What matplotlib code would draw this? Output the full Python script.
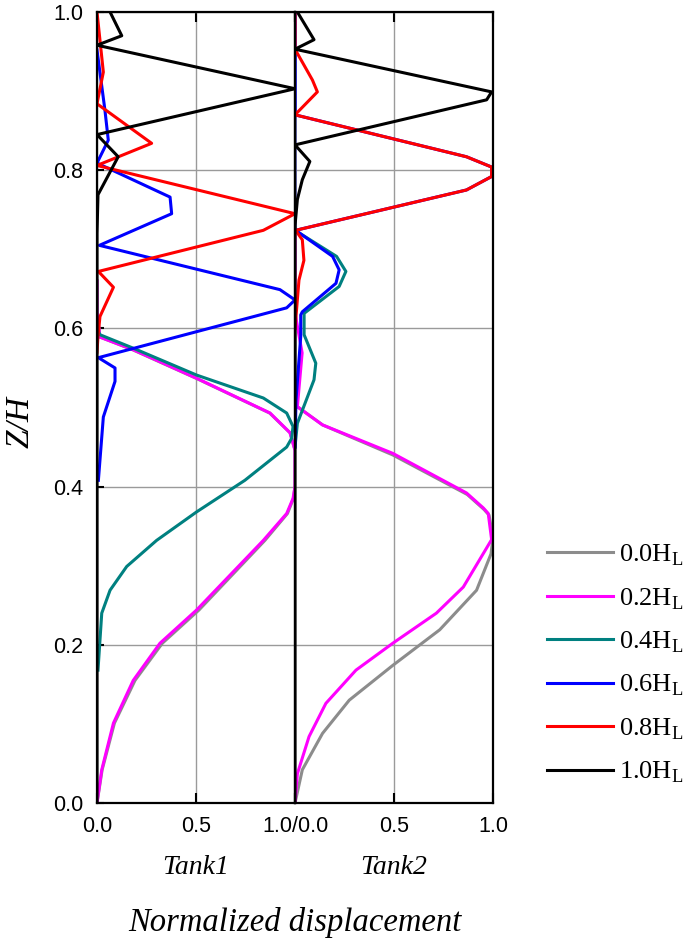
import matplotlib
matplotlib.use("Agg")
import matplotlib.pyplot as plt

plt.rcParams['mathtext.fontset'] = 'custom'
plt.rcParams['mathtext.rm'] = 'Liberation Serif'

labels = ["0.0H$_\\mathrm{L}$", "0.2H$_\\mathrm{L}$", "0.4H$_\\mathrm{L}$",
          "0.6H$_\\mathrm{L}$", "0.8H$_\\mathrm{L}$", "1.0H$_\\mathrm{L}$"]
colors = ["#8c8c8c", "#ff00ff", "#008080", "#0000ff", "#ff0000", "#000000"]

# ---- Tank1 (x = normalized displacement, z = Z/H) ----
t1_gray_x = [0.0, 0.0, 0.015, 0.18, 0.50, 0.872, 0.975, 1.0, 1.0, 0.992, 0.962, 0.848, 0.515, 0.33, 0.192, 0.088, 0.026, 0.0]
t1_gray_z = [0.66, 0.62, 0.589, 0.573, 0.537, 0.493, 0.468, 0.446, 0.40, 0.385, 0.366, 0.332, 0.244, 0.202, 0.155, 0.101, 0.042, 0.0]
t1_mag_x = [0.0, 0.0, 0.015, 0.183, 0.503, 0.874, 0.975, 1.0, 1.0, 0.99, 0.958, 0.84, 0.503, 0.318, 0.183, 0.083, 0.024, 0.0]
t1_mag_z = [0.66, 0.62, 0.589, 0.573, 0.537, 0.493, 0.468, 0.446, 0.40, 0.385, 0.366, 0.332, 0.244, 0.202, 0.155, 0.101, 0.042, 0.0]
t1_teal_x = [0.0, 0.015, 0.183, 0.503, 0.84, 0.958, 0.99, 0.983, 0.958, 0.747, 0.503, 0.301, 0.15, 0.066, 0.024, 0.005]
t1_teal_z = [0.60, 0.592, 0.575, 0.541, 0.512, 0.493, 0.476, 0.461, 0.450, 0.408, 0.368, 0.332, 0.299, 0.269, 0.240, 0.168]
t1_blue_x = [0.0, 0.04, 0.057, 0.0, 0.369, 0.377, 0.012, 0.924, 1.0, 0.958, 0.007, 0.091, 0.091, 0.032, 0.007]
t1_blue_z = [0.952, 0.876, 0.838, 0.809, 0.766, 0.745, 0.705, 0.649, 0.636, 0.626, 0.563, 0.550, 0.533, 0.488, 0.408]
t1_red_x = [0.0, 0.032, 0.0, 0.276, 0.0, 1.0, 0.84, 0.007, 0.083, 0.015, 0.005, 0.0]
t1_red_z = [1.0, 0.924, 0.884, 0.834, 0.806, 0.745, 0.724, 0.672, 0.652, 0.615, 0.59, 0.57]
t1_black_x = [0.066, 0.125, 0.0, 1.0, 0.0, 0.107, 0.005, 0.0, 0.0]
t1_black_z = [1.0, 0.970, 0.958, 0.903, 0.845, 0.817, 0.769, 0.72, 0.0]

# ---- Tank2 ----
t2_gray_x = [0.0, 0.0, 0.012, 0.139, 0.494, 0.87, 0.955, 0.98, 1.0, 0.99, 0.917, 0.731, 0.494, 0.274, 0.139, 0.037, 0.0]
t2_gray_z = [1.0, 0.51, 0.501, 0.478, 0.44, 0.39, 0.371, 0.364, 0.335, 0.315, 0.269, 0.219, 0.174, 0.130, 0.088, 0.042, 0.0]
t2_mag_x = [0.0, 0.0, 0.036, 0.012, 0.139, 0.494, 0.866, 0.951, 0.976, 0.993, 0.85, 0.714, 0.494, 0.308, 0.156, 0.071, 0.012, 0.0]
t2_mag_z = [1.0, 0.62, 0.569, 0.501, 0.478, 0.442, 0.392, 0.373, 0.366, 0.333, 0.273, 0.240, 0.202, 0.168, 0.126, 0.084, 0.037, 0.0]
t2_teal_x = [0.0, 0.0, 0.21, 0.257, 0.223, 0.046, 0.046, 0.105, 0.096, 0.012, 0.0]
t2_teal_z = [1.0, 0.724, 0.691, 0.672, 0.653, 0.619, 0.592, 0.556, 0.535, 0.480, 0.45]
t2_blue_x = [0.0, 0.0, 0.866, 0.993, 0.993, 0.866, 0.003, 0.19, 0.223, 0.207, 0.037, 0.029, 0.029, 0.005, 0.0]
t2_blue_z = [1.0, 0.870, 0.817, 0.804, 0.792, 0.775, 0.724, 0.691, 0.674, 0.657, 0.621, 0.617, 0.590, 0.509, 0.45]
t2_red_x = [0.0, 0.0, 0.088, 0.113, 0.0, 0.866, 0.993, 0.993, 0.866, 0.003, 0.037, 0.045, 0.02, 0.0]
t2_red_z = [1.0, 0.953, 0.914, 0.899, 0.870, 0.817, 0.804, 0.792, 0.775, 0.724, 0.712, 0.686, 0.661, 0.60]
t2_black_x = [0.012, 0.096, 0.0, 0.993, 0.968, 0.0, 0.075, 0.037, 0.012, 0.0, 0.0]
t2_black_z = [1.0, 0.965, 0.953, 0.899, 0.889, 0.832, 0.811, 0.788, 0.763, 0.73, 0.0]

tank1 = [(t1_gray_x, t1_gray_z), (t1_mag_x, t1_mag_z), (t1_teal_x, t1_teal_z),
         (t1_blue_x, t1_blue_z), (t1_red_x, t1_red_z), (t1_black_x, t1_black_z)]
tank2 = [(t2_gray_x, t2_gray_z), (t2_mag_x, t2_mag_z), (t2_teal_x, t2_teal_z),
         (t2_blue_x, t2_blue_z), (t2_red_x, t2_red_z), (t2_black_x, t2_black_z)]

fig = plt.figure(figsize=(6.85, 9.43), dpi=100)
ax1 = fig.add_axes([97 / 685, 1 - 803 / 943, 198 / 685, 791 / 943])
ax2 = fig.add_axes([295 / 685, 1 - 803 / 943, 198 / 685, 791 / 943])

for ax, data in zip([ax1, ax2], [tank1, tank2]):
    for (x, z), c, lab in zip(data, colors, labels):
        ax.plot(x, z, color=c, lw=2.2, label=lab)
    ax.set_xlim(0, 1)
    ax.set_ylim(0, 1)
    ax.set_xticks([0, 0.5, 1.0])
    ax.set_yticks([0, 0.2, 0.4, 0.6, 0.8, 1.0])
    ax.grid(True, color="#9a9a9a", lw=1.0)
    ax.set_axisbelow(True)
    for s in ax.spines.values():
        s.set_linewidth(1.6)
        s.set_color("black")
    ax.tick_params(axis='x', direction='in', length=7, width=1.5, top=True,
                   pad=9, labelsize=15.5)
    ax.tick_params(axis='y', direction='in', length=5, width=1.5, pad=10, labelsize=15.5)

ax1.set_xticklabels(["0.0", "0.5", "1.0/0.0"])
ax2.set_xticklabels(["", "0.5", "1.0"])
ax1.set_yticklabels(["0.0", "0.2", "0.4", "0.6", "0.8", "1.0"])
ax2.tick_params(axis='y', left=False, labelleft=False)
for t in ax1.get_xticklabels() + ax2.get_xticklabels() + ax1.get_yticklabels():
    t.set_fontfamily("Liberation Sans")

serif = "Liberation Serif"
fig.text(196 / 685, 1 - 868 / 943, "Tank1", family=serif, style="italic",
         fontsize=20, ha="center", va="center")
fig.text(394 / 685, 1 - 868 / 943, "Tank2", family=serif, style="italic",
         fontsize=20, ha="center", va="center")
fig.text(295 / 685, 1 - 923 / 943, "Normalized displacement", family=serif,
         style="italic", fontsize=23.5, ha="center", va="center")
fig.text(20 / 685, 1 - 422 / 943, "Z/H", family=serif, style="italic",
         fontsize=24, rotation=90, ha="center", va="center")

handles, labs = ax1.get_legend_handles_labels()
fig.legend(handles, labs, loc="center left", bbox_to_anchor=(0.798, 1 - 664 / 943),
           frameon=False, prop={"family": serif, "size": 19},
           handlelength=2.5, handletextpad=0.25, labelspacing=0.68, borderpad=0,
           borderaxespad=0)

fig.savefig("out.png", dpi=100)
